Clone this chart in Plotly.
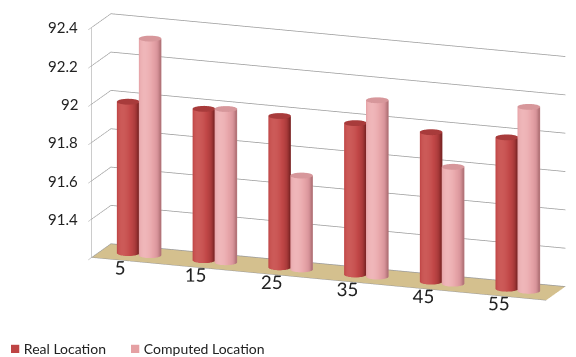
import numpy as np
import plotly.graph_objects as go

categories = ["5", "15", "25", "35", "45", "55"]
real_location = [91.99, 91.99, 91.99, 91.99, 91.98, 91.99]
computed_location = [92.33, 92.00, 91.69, 92.12, 91.81, 92.16]
series_names = ["Real Location", "Computed Location"]
z_ticks = [91.2, 91.4, 91.6, 91.8, 92.0, 92.2, 92.4]
z_tick_text = ["91.2", "91.4", "91.6", "91.8", "92", "92.2", "92.4"]

Z_MIN, Z_MAX = 91.2, 92.4
DEPTH = 0.7
RADIUS = 0.14
OFFSET = 0.145
REAL_COLOR = "#BE4444"
COMP_COLOR = "#E5A0A3"
REAL_SCALE = [[0, "#7E2626"], [0.45, "#A93A3A"], [0.8, "#C24848"], [1, "#CC5A58"]]
COMP_SCALE = [[0, "#B47479"], [0.45, "#D8949A"], [0.8, "#E8A6AA"], [1, "#EFB6B9"]]
REAL_CAP = "#A83B3B"
COMP_CAP = "#D7979B"

FLAT = dict(ambient=1.0, diffuse=0.0, specular=0.0, roughness=1.0, fresnel=0.0)

yaw, pitch = np.radians(20), np.radians(15)
view_az = np.arctan2(-np.cos(yaw), np.sin(yaw))   # direction to viewer in xy-plane
light_az = view_az - np.radians(30)


def cylinder(cx, cy, h, scale, cap_color):
    theta = np.linspace(0, 2 * np.pi, 90)
    zs = np.array([Z_MIN, h])
    th, zz = np.meshgrid(theta, zs)
    xs = cx + RADIUS * np.cos(th)
    ys = cy + RADIUS * np.sin(th)
    shade = np.clip(np.cos(th - light_az), 0, 1) ** 0.8
    side = go.Surface(x=xs, y=ys, z=zz, surfacecolor=shade, cmin=0, cmax=1,
                      colorscale=scale, showscale=False, showlegend=False,
                      hoverinfo="skip", lighting=FLAT)
    rr = np.linspace(0, RADIUS, 2)
    th2, r2 = np.meshgrid(theta, rr)
    cap = go.Surface(x=cx + r2 * np.cos(th2), y=cy + r2 * np.sin(th2),
                     z=np.full_like(r2, h), surfacecolor=np.zeros_like(r2),
                     colorscale=[[0, cap_color], [1, cap_color]],
                     showscale=False, showlegend=False,
                     hoverinfo="skip", lighting=FLAT)
    return [side, cap]


fig = go.Figure()
for i, cat in enumerate(categories):
    cx = i + 0.5
    for tr in cylinder(cx - OFFSET, DEPTH / 2, real_location[i], REAL_SCALE, REAL_CAP):
        fig.add_trace(tr)
    for tr in cylinder(cx + OFFSET, DEPTH / 2, computed_location[i], COMP_SCALE, COMP_CAP):
        fig.add_trace(tr)

# value-axis labels as scene annotations anchored on the front-left edge
z_label_annotations = [
    dict(x=0.005, y=0.005, z=t, text=s, showarrow=False,
         xanchor="right", yanchor="middle", xshift=-12,
         font=dict(size=15, color="#222222"))
    for t, s in zip(z_ticks, z_tick_text)
]

k = 1.54
fig.update_layout(
    width=576, height=357,
    margin=dict(l=0, r=0, t=0, b=0),
    paper_bgcolor="white",
    font=dict(family="Lato, Open Sans, sans-serif", color="#222222", size=15),
    showlegend=False,
    scene=dict(
        domain=dict(x=[0.14, 1], y=[0.12, 1]),
        xaxis=dict(range=[0, 6], tickvals=[i + 0.5 for i in range(6)],
                   ticktext=categories, title="", showgrid=False, tickangle=0,
                   showbackground=False, showline=True, linecolor="#999999",
                   ticks="outside", ticklen=30, tickcolor="rgba(0,0,0,0)",
                   showspikes=False, zeroline=False,
                   tickfont=dict(size=15)),
        yaxis=dict(range=[0, DEPTH], title="", showticklabels=False, showgrid=False,
                   showbackground=False, showline=False, ticks="",
                   showspikes=False, zeroline=False),
        zaxis=dict(range=[Z_MIN, Z_MAX], tickvals=z_ticks, showticklabels=False,
                   title="", showgrid=True, gridcolor="#9a9a9a", gridwidth=1.5,
                   showbackground=True, backgroundcolor="#D4C08E",
                   showline=True, linecolor="#999999", ticks="outside", ticklen=6,
                   tickcolor="#999999",
                   showspikes=False, zeroline=False),
        aspectmode="manual",
        aspectratio=dict(x=2.0 * k, y=2.0 * DEPTH / 6 * k, z=0.985 * k),
        camera=dict(eye=dict(x=2.0 * np.sin(yaw) * np.cos(pitch),
                             y=-2.0 * np.cos(yaw) * np.cos(pitch),
                             z=2.0 * np.sin(pitch)),
                    center=dict(x=0, y=0, z=0),
                    projection=dict(type="orthographic")),
        annotations=z_label_annotations,
    ),
)

legend_x = [8, 128]
for name, color, lx in zip(series_names, [REAL_COLOR, COMP_COLOR], legend_x):
    fig.add_annotation(
        text=f"<span style='color:{color};font-size:17px'>■</span> {name}",
        x=lx / 576, y=1 - 347 / 357, xref="paper", yref="paper",
        xanchor="left", yanchor="middle", showarrow=False,
        font=dict(size=14, color="#222222"))

fig.write_html("out.html")
